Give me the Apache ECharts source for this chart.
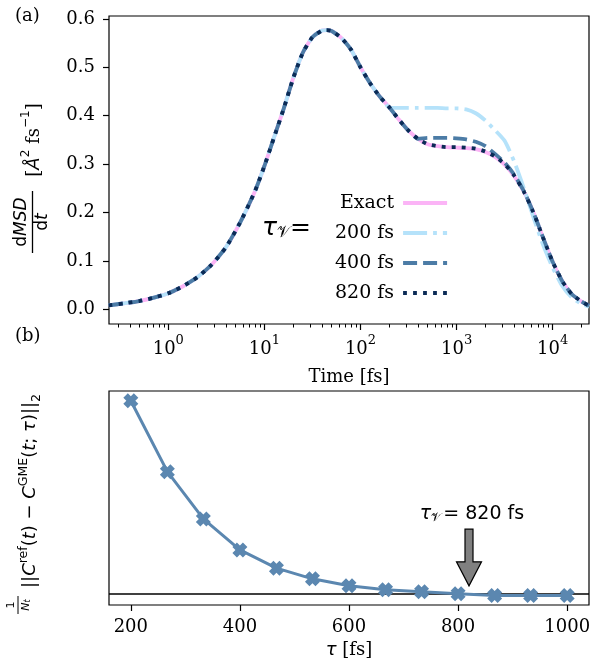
<!DOCTYPE html>
<html>
<head>
<meta charset="utf-8">
<script src="https://cdn.jsdelivr.net/npm/echarts@6/dist/echarts.min.js"></script>
<style>
  html, body { margin: 0; padding: 0; background: #fff; }
  #chart { width: 594px; height: 666px; }
</style>
</head>
<body>
<div id="chart"></div>
<script>
// ---- (a) time derivative of the MSD, exact vs. truncated memory kernels ----
const timeFs = [0.24, 0.355, 0.5, 0.71, 1, 1.41, 2, 2.82, 3.98, 5.62, 7.94, 10, 12.6, 15.8, 20, 25.1,
  31.6, 39.8, 44.7, 50.1, 63.1, 79.4, 100, 126, 158, 200, 251, 316, 398, 501, 631, 794, 1000, 1259,
  1585, 1995, 2512, 3162, 3981, 5012, 6310, 7943, 10000, 12589, 15849, 19953, 24000];

const exactRate = [0.008, 0.0125, 0.017, 0.024, 0.033, 0.047, 0.066, 0.092, 0.128, 0.180, 0.243, 0.296,
  0.355, 0.413, 0.478, 0.530, 0.562, 0.576, 0.577, 0.575, 0.561, 0.537, 0.500, 0.467, 0.440, 0.417,
  0.392, 0.369, 0.352, 0.341, 0.337, 0.335, 0.334, 0.333, 0.331, 0.325, 0.315, 0.299, 0.275, 0.243,
  0.200, 0.148, 0.098, 0.058, 0.031, 0.016, 0.007];

const rate200 = [0.008, 0.0125, 0.017, 0.024, 0.033, 0.047, 0.066, 0.092, 0.128, 0.180, 0.243, 0.296,
  0.355, 0.413, 0.478, 0.530, 0.562, 0.576, 0.577, 0.575, 0.561, 0.537, 0.500, 0.467, 0.440, 0.417,
  0.416, 0.416, 0.416, 0.416, 0.416, 0.415, 0.415, 0.413, 0.405, 0.390, 0.370, 0.348, 0.305, 0.250,
  0.190, 0.133, 0.086, 0.048, 0.024, 0.011, 0.005];

const rate400 = [0.008, 0.0125, 0.017, 0.024, 0.033, 0.047, 0.066, 0.092, 0.128, 0.180, 0.243, 0.296,
  0.355, 0.413, 0.478, 0.530, 0.562, 0.576, 0.577, 0.575, 0.561, 0.537, 0.500, 0.467, 0.440, 0.417,
  0.392, 0.369, 0.352, 0.354, 0.354, 0.354, 0.353, 0.351, 0.346, 0.337, 0.321, 0.303, 0.278, 0.244,
  0.200, 0.148, 0.098, 0.058, 0.031, 0.016, 0.007];

const rate820 = [0.008, 0.0125, 0.017, 0.024, 0.033, 0.047, 0.066, 0.092, 0.128, 0.180, 0.243, 0.296,
  0.355, 0.413, 0.478, 0.530, 0.562, 0.576, 0.577, 0.575, 0.561, 0.537, 0.500, 0.467, 0.440, 0.417,
  0.392, 0.369, 0.352, 0.341, 0.337, 0.335, 0.335, 0.334, 0.332, 0.326, 0.316, 0.300, 0.276, 0.243,
  0.200, 0.148, 0.098, 0.058, 0.031, 0.016, 0.007];

const seriesNames = ['Exact', '200 fs', '400 fs', '820 fs'];
const rateTicks = [0, 0.1, 0.2, 0.3, 0.4, 0.5, 0.6];
const decadeExponents = [0, 1, 2, 3, 4];

// ---- (b) kernel error vs. cut-off time ----
const tauFs = [200, 267, 333, 400, 467, 533, 600, 667, 733, 800, 867, 933, 1000];
const errNorm = [0.200, 0.129, 0.0817, 0.0507, 0.0324, 0.0217, 0.0147, 0.0107, 0.0087, 0.0067,
  0.0050, 0.0050, 0.0050];
const errFloor = 0.0064;
const tauTicks = [200, 400, 600, 800, 1000];
const chosenTau = 820;
const arrowTail = 0.0714;
const arrowTip = 0.0147;
const noteLevel = 0.089;

// minor log ticks 2..9 x 10^k
const minorExponents = [];
for (let e = -1; e <= 4; e++) {
  for (let k = 2; k <= 9; k++) minorExponents.push(Math.log10(k) + e);
}

const SERIF = 'DejaVu Serif';
const SANS = 'DejaVu Sans';
const colors = { exact: '#fbb4f6', t200: '#b5e2fa', t400: '#4c7ca6', t820: '#0b2b56', err: '#5b87b0' };
const LW = 3.8;

const toLog = arr => timeFs.map((t, i) => [Math.log10(t), arr[i]]);

// filled "X" marker
const xPath = 'path://M0,3 L3,0 L5,2 L7,0 L10,3 L8,5 L10,7 L7,10 L5,8 L3,10 L0,7 L2,5 Z';

const chart = echarts.init(document.getElementById('chart'), null, { renderer: 'canvas' });

const option = {
  animation: false,
  backgroundColor: '#fff',
  grid: [
    { left: 109, top: 16, width: 480, height: 308, show: true, borderColor: '#000', borderWidth: 1.2, backgroundColor: 'transparent' },
    { left: 109, top: 391, width: 480, height: 214, show: true, borderColor: '#000', borderWidth: 1.2, backgroundColor: 'transparent' }
  ],
  xAxis: [
    {
      type: 'value', gridIndex: 0, position: 'bottom', min: -0.617, max: 4.378,
      axisLine: { show: false, onZero: false },
      splitLine: { show: false },
      axisTick: { show: true, customValues: decadeExponents, length: 6, lineStyle: { color: '#000', width: 1.2 } },
      axisLabel: {
        customValues: decadeExponents, margin: 10, color: '#000',
        formatter: v => '{b|10}{s|' + Math.round(v) + '}',
        rich: {
          b: { fontFamily: SERIF, fontSize: 18, lineHeight: 24, color: '#000', verticalAlign: 'bottom' },
          s: { fontFamily: SERIF, fontSize: 13, lineHeight: 13, color: '#000', verticalAlign: 'top' }
        }
      },
      name: 'Time [fs]', nameLocation: 'middle', nameGap: 44,
      nameTextStyle: { fontFamily: SERIF, fontSize: 18, color: '#000', verticalAlign: 'top' }
    },
    {
      type: 'value', gridIndex: 0, position: 'bottom', min: -0.617, max: 4.378,
      axisLine: { show: false, onZero: false }, splitLine: { show: false }, axisLabel: { show: false },
      axisTick: { show: true, customValues: minorExponents, length: 3.5, lineStyle: { color: '#000', width: 1 } }
    },
    {
      type: 'value', gridIndex: 1, position: 'bottom', min: 160, max: 1040,
      axisLine: { show: false, onZero: false }, splitLine: { show: false },
      axisTick: { show: true, customValues: tauTicks, length: 6, lineStyle: { color: '#000', width: 1.2 } },
      axisLabel: { customValues: tauTicks, margin: 12, color: '#000', fontFamily: SERIF, fontSize: 18, lineHeight: 20, formatter: v => String(v) },
      name: '{t|τ} [fs]', nameLocation: 'middle', nameGap: 36,
      nameTextStyle: {
        fontFamily: SERIF, fontSize: 18, color: '#000', verticalAlign: 'top',
        rich: { t: { fontFamily: SANS, fontStyle: 'italic', fontSize: 18, color: '#000' } }
      }
    }
  ],
  yAxis: [
    {
      type: 'value', gridIndex: 0, min: -0.0305, max: 0.606,
      axisLine: { show: false, onZero: false }, splitLine: { show: false },
      axisTick: { show: true, customValues: rateTicks, length: 6, lineStyle: { color: '#000', width: 1.2 } },
      axisLabel: { customValues: rateTicks, margin: 14, color: '#000', fontFamily: SERIF, fontSize: 18, formatter: v => v.toFixed(1) }
    },
    {
      type: 'value', gridIndex: 1, min: -0.0045, max: 0.2098,
      axisLine: { show: false, onZero: false }, splitLine: { show: false }, axisTick: { show: false }, axisLabel: { show: false }
    }
  ],
  legend: {
    data: seriesNames, orient: 'vertical', left: 330, top: 188, align: 'right',
    itemWidth: 44, itemHeight: 10, itemGap: 10, selectedMode: false,
    itemStyle: { opacity: 0 },
    lineStyle: { width: LW },
    textStyle: { fontFamily: SERIF, fontSize: 19, color: '#000', lineHeight: 20, padding: [0, 4, 0, 0] }
  },
  series: [
    {
      name: 'Exact', type: 'line', xAxisIndex: 0, yAxisIndex: 0, data: toLog(exactRate),
      symbol: 'none', smooth: 0.2, lineStyle: { color: colors.exact, width: LW }, itemStyle: { color: colors.exact }
    },
    {
      name: '200 fs', type: 'line', xAxisIndex: 0, yAxisIndex: 0, data: toLog(rate200),
      symbol: 'none', smooth: 0.2, lineStyle: { color: colors.t200, width: LW, type: [24, 6, 3.8, 6] }, itemStyle: { color: colors.t200 }
    },
    {
      name: '400 fs', type: 'line', xAxisIndex: 0, yAxisIndex: 0, data: toLog(rate400),
      symbol: 'none', smooth: 0.2, lineStyle: { color: colors.t400, width: LW, type: [14, 6] }, itemStyle: { color: colors.t400 }
    },
    {
      name: '820 fs', type: 'line', xAxisIndex: 0, yAxisIndex: 0, data: toLog(rate820),
      symbol: 'none', smooth: 0.2, lineStyle: { color: colors.t820, width: LW, type: [3.8, 6.2] }, itemStyle: { color: colors.t820 }
    },
    {
      name: 'floor', type: 'line', xAxisIndex: 2, yAxisIndex: 1, silent: true,
      data: [[160, errFloor], [1040, errFloor]], symbol: 'none',
      lineStyle: { color: '#000', width: 1.5 }
    },
    {
      name: 'error', type: 'line', xAxisIndex: 2, yAxisIndex: 1,
      data: tauFs.map((t, i) => [t, errNorm[i]]),
      symbol: xPath, symbolSize: 15, showAllSymbol: true,
      lineStyle: { color: colors.err, width: 3 }, itemStyle: { color: colors.err }
    },
    {
      name: 'note', type: 'custom', xAxisIndex: 2, yAxisIndex: 1, silent: true,
      data: [[chosenTau, arrowTail, arrowTip, noteLevel]],
      renderItem: (params, api) => {
        const tail = api.coord([api.value(0), api.value(1)]);
        const tip = api.coord([api.value(0), api.value(2)]);
        const note = api.coord([api.value(0), api.value(3)]);
        const x = tip[0], hw = 4, hh = 12.5, hl = 24;
        const neck = tip[1] - hl;
        return {
          type: 'group',
          children: [
            {
              type: 'polygon',
              shape: { points: [[x - hw, tail[1]], [x + hw, tail[1]], [x + hw, neck], [x + hh, neck], [x, tip[1]], [x - hh, neck], [x - hw, neck]] },
              style: { fill: '#808080', stroke: '#000', lineWidth: 1.2 }
            },
            {
              type: 'text', x: x + 3, y: note[1],
              style: {
                text: '{t|τ}{s|𝒱}{n|= 820 fs}', align: 'center', verticalAlign: 'middle',
                rich: {
                  t: { fontFamily: SANS, fontStyle: 'italic', fontSize: 19, lineHeight: 24, verticalAlign: 'bottom', fill: '#000' },
                  s: { fontFamily: SANS, fontSize: 12, lineHeight: 12, verticalAlign: 'bottom', fill: '#000', padding: [0, 2, 0, 0] },
                  n: { fontFamily: SANS, fontSize: 19, lineHeight: 24, verticalAlign: 'bottom', fill: '#000' }
                }
              }
            }
          ]
        };
      }
    }
  ],
  graphic: [
    { type: 'text', left: 15, top: 7, style: { text: '(a)', fontFamily: SERIF, fontSize: 18, fill: '#000' } },
    { type: 'text', left: 15, top: 327, style: { text: '(b)', fontFamily: SERIF, fontSize: 18, fill: '#000' } },
    {
      type: 'text', x: 262, y: 226,
      style: {
        text: '{t|τ}{s|𝒱}{e|=}', verticalAlign: 'middle',
        rich: {
          t: { fontFamily: SANS, fontStyle: 'italic', fontSize: 25, lineHeight: 30, verticalAlign: 'bottom', fill: '#000' },
          s: { fontFamily: SANS, fontSize: 16, lineHeight: 16, verticalAlign: 'bottom', fill: '#000' },
          e: { fontFamily: SANS, fontSize: 25, lineHeight: 30, verticalAlign: 'bottom', fill: '#000' }
        }
      }
    },
    {
      // y label of (a): d MSD / dt [Å² fs⁻¹]
      type: 'group', x: 32.5, y: 170, rotation: Math.PI / 2,
      children: [
        {
          type: 'text', x: -52, y: -2,
          style: {
            text: '{r|d}{i|MSD}', align: 'center', verticalAlign: 'bottom',
            rich: {
              r: { fontFamily: SANS, fontSize: 17, fill: '#000' },
              i: { fontFamily: SANS, fontStyle: 'italic', fontSize: 17, fill: '#000' }
            }
          }
        },
        { type: 'line', shape: { x1: -83, y1: 0, x2: -21, y2: 0 }, style: { stroke: '#000', lineWidth: 1.3 } },
        {
          type: 'text', x: -52, y: 2,
          style: {
            text: '{r|d}{i|t}', align: 'center', verticalAlign: 'top',
            rich: {
              r: { fontFamily: SANS, fontSize: 17, fill: '#000' },
              i: { fontFamily: SANS, fontStyle: 'italic', fontSize: 17, fill: '#000' }
            }
          }
        },
        {
          type: 'text', x: 30, y: -1,
          style: {
            text: '{m|[}{i|Å}{p|2}{m| fs}{p|−1}{m|]}', align: 'center', verticalAlign: 'middle',
            rich: {
              m: { fontFamily: SERIF, fontSize: 18, lineHeight: 24, verticalAlign: 'bottom', fill: '#000' },
              i: { fontFamily: SANS, fontStyle: 'italic', fontSize: 18, lineHeight: 24, verticalAlign: 'bottom', fill: '#000' },
              p: { fontFamily: SANS, fontSize: 12, lineHeight: 12, verticalAlign: 'top', fill: '#000' }
            }
          }
        }
      ]
    },
    {
      // y label of (b): 1/N_t ||C^ref(t) − C^GME(t; τ)||_2
      type: 'group', x: 30, y: 500, rotation: Math.PI / 2,
      children: [
        { type: 'text', x: -105, y: -13, style: { text: '1', align: 'center', verticalAlign: 'bottom', fontFamily: SANS, fontSize: 11, fill: '#000' } },
        { type: 'line', shape: { x1: -114, y1: -12, x2: -96, y2: -12 }, style: { stroke: '#000', lineWidth: 1 } },
        {
          type: 'text', x: -105, y: -11,
          style: {
            text: '{i|N}{s|t}', align: 'center', verticalAlign: 'top',
            rich: {
              i: { fontFamily: SANS, fontStyle: 'italic', fontSize: 11, lineHeight: 13, verticalAlign: 'bottom', fill: '#000' },
              s: { fontFamily: SANS, fontStyle: 'italic', fontSize: 8, lineHeight: 8, verticalAlign: 'bottom', fill: '#000' }
            }
          }
        },
        {
          type: 'text', x: -88, y: 0,
          style: {
            text: '{m|||}{i|C}{p|ref}{m|(}{i|t}{m|) − }{i|C}{p|GME}{m|(}{i|t}{m|; }{i|τ}{m|)||}{b|2}',
            align: 'left', verticalAlign: 'middle',
            rich: {
              m: { fontFamily: SANS, fontSize: 18, lineHeight: 26, verticalAlign: 'middle', fill: '#000' },
              i: { fontFamily: SANS, fontStyle: 'italic', fontSize: 18, lineHeight: 26, verticalAlign: 'middle', fill: '#000' },
              p: { fontFamily: SANS, fontSize: 12.5, lineHeight: 12.5, verticalAlign: 'top', fill: '#000' },
              b: { fontFamily: SANS, fontSize: 12.5, lineHeight: 12.5, verticalAlign: 'bottom', fill: '#000' }
            }
          }
        }
      ]
    }
  ]
};

chart.setOption(option);
</script>
</body>
</html>
